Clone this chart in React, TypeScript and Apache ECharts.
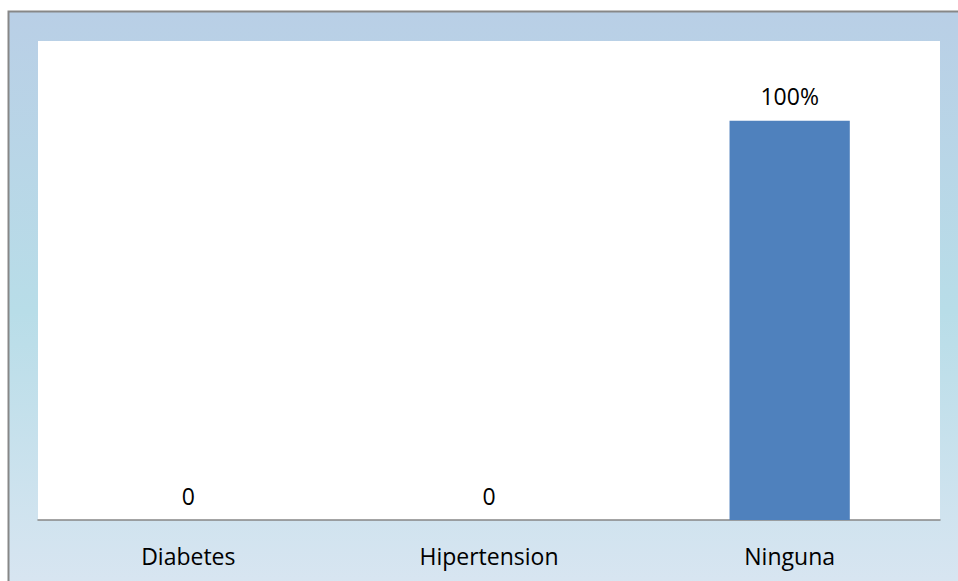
import React, { useEffect, useRef } from "react";
import * as echarts from "echarts";

const categories = ["Diabetes", "Hipertension", "Ninguna"];
const values = [0, 0, 100];
const valueLabels = ["0", "0", "100%"];

export default function App() {
  const ref = useRef<HTMLDivElement>(null);
  useEffect(() => {
    document.documentElement.style.overflow = "hidden";
    document.body.style.overflow = "hidden";
    document.body.style.margin = "0";
    if (!ref.current) return;
    const chart = echarts.init(ref.current, null, { renderer: "svg" });
    chart.setOption({
      animation: false,
      graphic: [
        {
          type: "rect",
          z: -10,
          silent: true,
          shape: { x: 8.5, y: 11.5, width: 960, height: 600 },
          style: {
            fill: new echarts.graphic.LinearGradient(0, 0, 0, 1, [
              { offset: 0, color: "#b9cfe6" },
              { offset: 0.5, color: "#b8dde8" },
              { offset: 1, color: "#dbe6f2" },
            ]),
            stroke: "#878787",
            lineWidth: 2,
          },
        },
        {
          type: "rect",
          z: -9,
          silent: true,
          shape: { x: 38, y: 41, width: 902, height: 479 },
          style: { fill: "#ffffff" },
        },
      ],
      grid: { left: 38, right: 18, top: 41, bottom: 61 },
      xAxis: {
        type: "category",
        data: categories,
        axisLine: { lineStyle: { color: "#868686", width: 1.5 } },
        axisTick: { show: false },
        axisLabel: {
          color: "#000",
          fontSize: 23,
          fontFamily: "Open Sans",
          margin: 24,
        },
      },
      yAxis: {
        type: "value",
        min: 0,
        max: 120,
        show: false,
        splitLine: { show: false },
      },
      series: [
        {
          type: "bar",
          data: values,
          barWidth: "40%",
          itemStyle: { color: "#4f81bd" },
          label: {
            show: true,
            position: "top",
            distance: 13,
            color: "#000",
            fontSize: 23,
            fontFamily: "Open Sans",
            formatter: (p: any) => valueLabels[p.dataIndex],
          },
        },
      ],
    });
    return () => chart.dispose();
  }, []);
  return <div ref={ref} style={{ width: 958, height: 581 }} />;
}
